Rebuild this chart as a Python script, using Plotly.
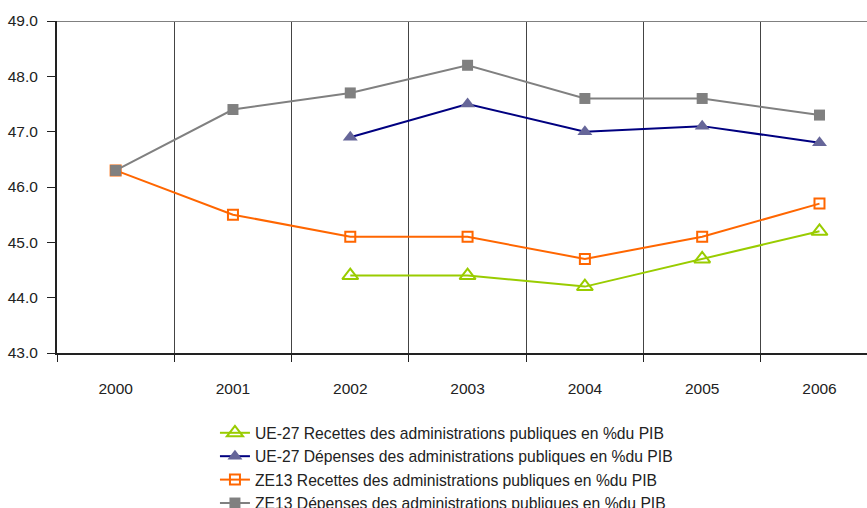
import plotly.graph_objects as go

years = ["2000", "2001", "2002", "2003", "2004", "2005", "2006"]
xpos = list(range(len(years)))

ue27_recettes = [None, None, 44.4, 44.4, 44.2, 44.7, 45.2]
ue27_depenses = [None, None, 46.9, 47.5, 47.0, 47.1, 46.8]
ze13_recettes = [46.3, 45.5, 45.1, 45.1, 44.7, 45.1, 45.7]
ze13_depenses = [46.3, 47.4, 47.7, 48.2, 47.6, 47.6, 47.3]

series = [
    ("UE-27 Recettes des administrations publiques en %du PIB", ue27_recettes,
     "#99CC00", dict(symbol="triangle-up-open", size=14, color="#99CC00", line=dict(width=2, color="#99CC00"))),
    ("UE-27 Dépenses des administrations publiques en %du PIB", ue27_depenses,
     "#000080", dict(symbol="triangle-up", size=13, color="#666699", line=dict(width=0))),
    ("ZE13 Recettes des administrations publiques en %du PIB", ze13_recettes,
     "#FF6600", dict(symbol="square-open", size=10, color="#FF6600", line=dict(width=2, color="#FF6600"))),
    ("ZE13 Dépenses des administrations publiques en %du PIB", ze13_depenses,
     "#808080", dict(symbol="square", size=11, color="#808080", line=dict(width=0))),
]

fig = go.Figure()
for i, (name, vals, col, mk) in enumerate(series):
    fig.add_trace(go.Scatter(
        x=xpos, y=vals, name=name, mode="lines+markers",
        line=dict(color=col, width=2), marker=mk,
        legendgroup=f"g{i}",
    ))

FAMILY = "Liberation Sans, Arial, sans-serif"

fig.update_layout(
    width=867, height=508,
    margin=dict(l=57, r=0, t=21, b=155, autoexpand=False),
    paper_bgcolor="white", plot_bgcolor="white",
    font=dict(family=FAMILY, size=15.5, color="#222222"),
    showlegend=True,
    legend=dict(
        x=0.195, y=-0.19, xanchor="left", yanchor="top",
        font=dict(family=FAMILY, size=15.7, color="#222222"),
        tracegroupgap=0, bgcolor="rgba(0,0,0,0)",
    ),
    xaxis=dict(
        range=[-0.5, 6.405], tickvals=xpos, ticktext=years,
        showgrid=False, zeroline=False,
        showline=True, linecolor="#222222", linewidth=2,
        ticks="", ticklabelstandoff=20,
        minor=dict(tickvals=[-0.5, 0.5, 1.5, 2.5, 3.5, 4.5, 5.5], ticks="outside", ticklen=7,
                   tickcolor="#222222", showgrid=True, gridcolor="#444444", gridwidth=1),
        fixedrange=True,
    ),
    yaxis=dict(
        range=[43, 49], dtick=1, tickformat=".1f",
        showgrid=False, zeroline=False,
        showline=True, linecolor="#222222", linewidth=2,
        ticks="outside", ticklen=8, tickcolor="#222222", ticklabelstandoff=6,
        fixedrange=True,
    ),
    shapes=[dict(type="line", xref="paper", yref="y", x0=0, x1=1, y0=49, y1=49,
                 line=dict(color="#808080", width=2))],
)

fig.write_html("out.html")
